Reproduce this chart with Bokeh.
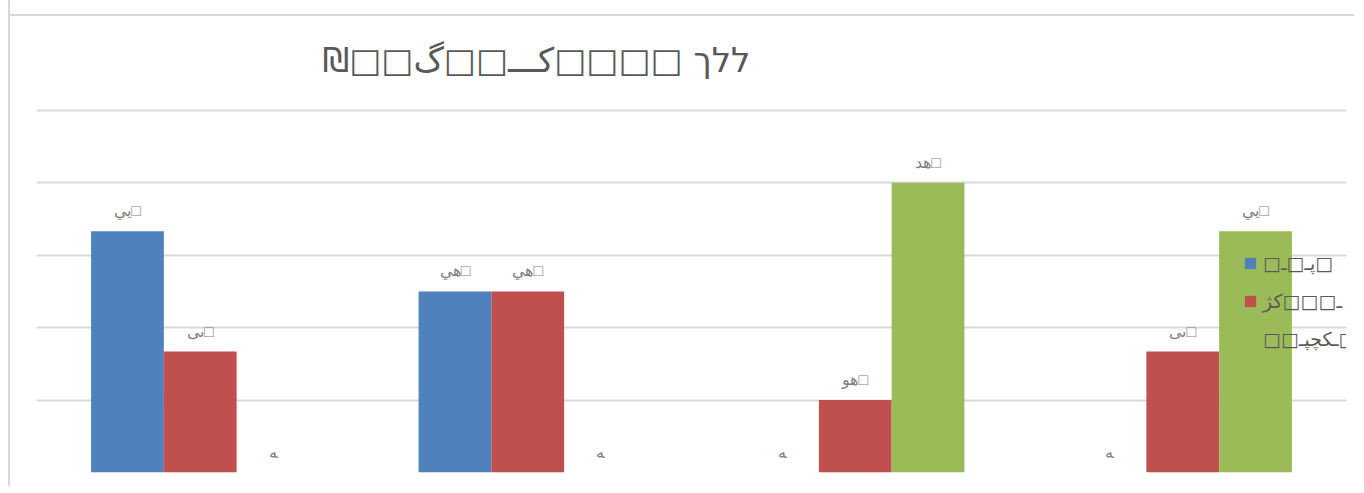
from bokeh.plotting import figure
from bokeh.models import (ColumnDataSource, Range1d, Grid, FixedTicker, Title,
                          LabelSet, Legend, LegendItem)
from bokeh.embed import file_html
from bokeh.resources import INLINE

# ---- data (text is shown as in the reference, left-to-right visual order) ----
title_text = "₪□□گ□□ـــک□□□□ ךלל"
categories = ["1", "2", "3", "4"]
series_names = ["□ـ□ـپ□", "ژک□□□ـ", "□□ـپچکـ□"]
blue_values = [33.3, 25, 0, 0]
red_values = [16.7, 25, 10, 16.7]
green_values = [0, 0, 40, 33.3]
blue_labels = ["يي□", "يه□", "ﻪ", "ﻪ"]
red_labels = ["ىى□", "يه□", "وه□", "ىى□"]
green_labels = ["ﻪ", "ﻪ", "ده□", "يي□"]
y_ticks = [0, 10, 20, 30, 40, 50]

colors = ["#4F81BD", "#C0504D", "#9BBB59"]


def shown(s):
    # right-to-left override so the characters appear in the order written above
    return "\u202E" + s[::-1] + "\u202C"


FONT = "DejaVu Sans"
bar_w = 1 / 4.5

p = figure(width=1346, height=486, output_backend="svg", toolbar_location=None,
           x_axis_location=None, y_axis_location=None,
           x_range=Range1d(0, len(categories)), y_range=Range1d(0, 50.4),
           min_border_left=26, min_border_right=10, min_border_top=107,
           min_border_bottom=14, outline_line_color=None,
           background_fill_color="white", border_fill_alpha=0)
p.styles = {"border-left": "2px solid #d9d9d9", "margin-left": "8px",
            "background": "linear-gradient(#d9d9d9, #d9d9d9) 0 14px / 100% 2px no-repeat, white"}
for g in p.grid:
    g.visible = False

grid = Grid(dimension=1, ticker=FixedTicker(ticks=y_ticks),
            grid_line_color="#d9d9d9", grid_line_width=2)
p.add_layout(grid)

all_values = [blue_values, red_values, green_values]
all_labels = [blue_labels, red_labels, green_labels]
items = []
for k, (vals, labs) in enumerate(zip(all_values, all_labels)):
    xs = [i + 0.5 + (k - 1) * bar_w for i in range(len(categories))]
    src = ColumnDataSource(dict(x=xs, top=vals, lab=[shown(t) for t in labs]))
    r = p.vbar(x="x", top="top", bottom=0, width=bar_w, source=src,
               fill_color=colors[k], line_color=None)
    ls = LabelSet(x="x", y="top", text="lab", source=src, y_offset=12,
                  text_align="center", text_baseline="bottom",
                  text_font=FONT, text_font_size="16px", text_color="#808080")
    p.add_layout(ls)
    items.append(LegendItem(label=shown(series_names[k]), renderers=[r]))

legend = Legend(items=items, location=(1207, 122), orientation="vertical",
                background_fill_alpha=0, border_line_alpha=0, padding=0, margin=0,
                glyph_width=14, glyph_height=14, label_height=20, spacing=16,
                label_standoff=6, label_text_font=FONT, label_text_font_size="19px",
                label_text_color="#595959")
p.add_layout(legend)

title = Title(text=shown(title_text), align="left", offset=286, standoff=55,
              text_font=FONT, text_font_size="34px", text_font_style="normal",
              text_color="#595959")
p.add_layout(title, "above")

open("out.html", "w").write(file_html(p, INLINE))
